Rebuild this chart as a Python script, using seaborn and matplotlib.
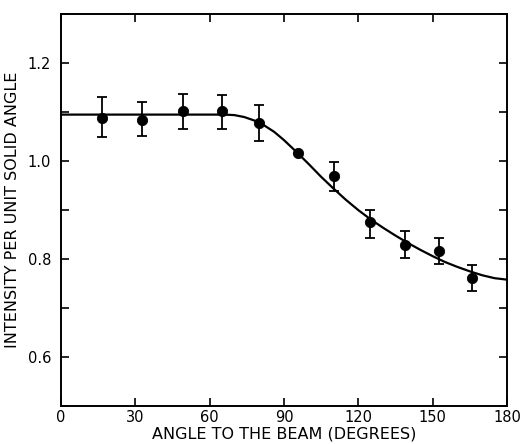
import numpy as np
import pandas as pd
import matplotlib.pyplot as plt
import seaborn as sns
from matplotlib.ticker import MultipleLocator

# measured points (angle in degrees, intensity, error bar ends)
angle = [16.4, 32.6, 49.1, 65.1, 80.0, 95.5, 110.3, 124.7, 139.0, 152.6, 166.0]
intensity = [1.088, 1.085, 1.102, 1.103, 1.078, 1.016, 0.970, 0.875, 0.829, 0.817, 0.762]
err_hi = [1.130, 1.120, 1.137, 1.135, 1.114, 1.016, 0.998, 0.901, 0.857, 0.844, 0.788]
err_lo = [1.049, 1.051, 1.066, 1.066, 1.042, 1.016, 0.940, 0.844, 0.802, 0.790, 0.734]

# fitted curve
curve_angle = [0, 30, 60, 66, 70, 74, 78, 82, 86, 90, 95, 100, 105, 110, 115, 120,
               125, 130, 135, 140, 145, 150, 155, 160, 165, 170, 175, 180]
curve_val = [1.095, 1.095, 1.095, 1.095, 1.094, 1.090, 1.083, 1.073, 1.060, 1.043,
             1.019, 0.994, 0.968, 0.944, 0.921, 0.900, 0.881, 0.864, 0.848, 0.833,
             0.819, 0.806, 0.794, 0.784, 0.775, 0.767, 0.761, 0.758]

pts = pd.DataFrame({'angle': angle, 'intensity': intensity})
crv = pd.DataFrame({'angle': curve_angle, 'val': curve_val})

sns.set_style('ticks')
plt.rcParams['font.family'] = ['DejaVu Sans']
plt.rcParams['text.color'] = 'black'
plt.rcParams['axes.labelcolor'] = 'black'

fig = plt.figure(figsize=(5.21, 4.44), dpi=100)
ax = fig.add_axes([0.117, 0.0856, 0.856, 0.8824])

sns.lineplot(data=crv, x='angle', y='val', color='black', linewidth=1.6, ax=ax)
yerr = [np.array(intensity) - np.array(err_lo), np.array(err_hi) - np.array(intensity)]
ax.errorbar(angle, intensity, yerr=yerr, fmt='none', ecolor='black',
            elinewidth=1.3, capsize=3.5, capthick=1.3)
sns.scatterplot(data=pts, x='angle', y='intensity', color='black', s=55,
                edgecolor='black', zorder=5, ax=ax)

ax.set_xlim(0, 180)
ax.set_ylim(0.5, 1.3)
ax.xaxis.set_major_locator(MultipleLocator(30))
ax.set_yticks([0.6, 0.8, 1.0, 1.2])
ax.set_yticklabels(['0.6', '0.8', '1.0', '1.2'])
ax.yaxis.set_minor_locator(MultipleLocator(0.1))
ax.tick_params(which='both', direction='in', top=True, right=True,
               length=6, width=1.2, labelsize=10.5, colors='black')
ax.tick_params(axis='x', pad=3)
ax.tick_params(axis='y', pad=7)
for s in ax.spines.values():
    s.set_linewidth(1.4)
    s.set_color('black')

ax.set_xlabel('ANGLE TO THE BEAM (DEGREES)', fontsize=11.5, labelpad=1, color='black')
ax.set_ylabel('INTENSITY PER UNIT SOLID ANGLE', fontsize=11.5, labelpad=6, color='black')

fig.savefig('out.png', dpi=100)
